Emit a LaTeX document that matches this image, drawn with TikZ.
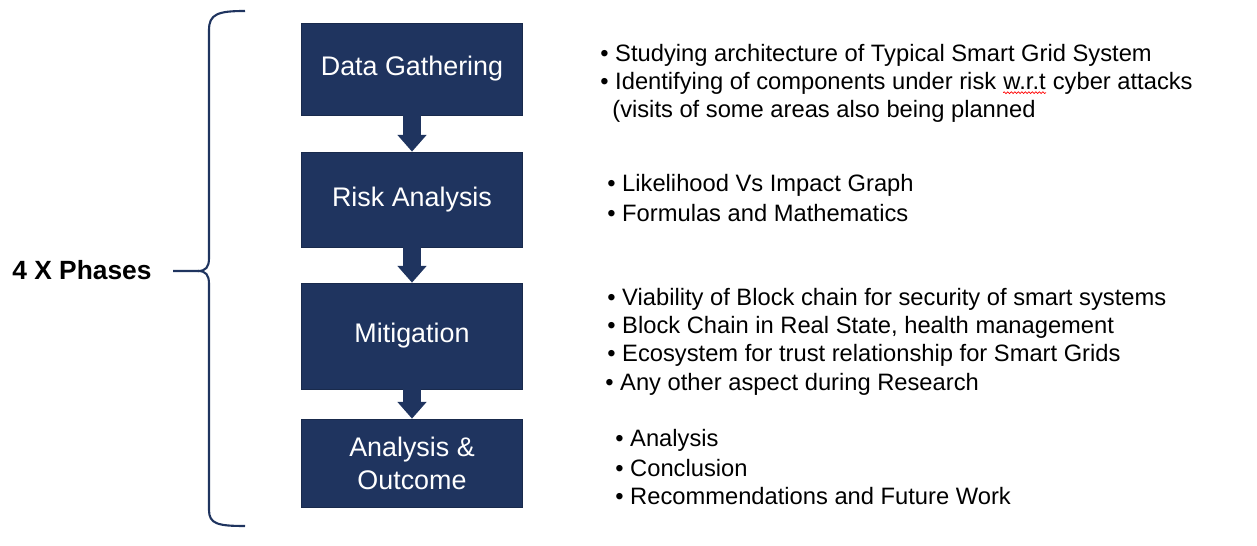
\documentclass[tikz,border=0pt]{standalone}
\usepackage{fontspec}
\setmainfont{Liberation Sans}
\usetikzlibrary{arrows.meta,decorations.pathmorphing}
\definecolor{phasenavy}{RGB}{31,52,95}
\tikzset{
  phase/.style={draw=phasenavy!80!black, fill=phasenavy, text=white, minimum width=4.42cm,
    align=center, font=\fontsize{15.3}{18.7}\selectfont},
  flow/.style={phasenavy, line width=10.5pt, -{Triangle[width=16pt,length=9.5pt]}},
  item/.style={anchor=west, inner sep=0pt, font=\fontsize{13.5}{16}\selectfont},
  brace/.style={phasenavy, line width=1.2pt},
  spell/.style={red, line width=0.4pt, decorate, decoration={snake, amplitude=0.5pt, segment length=2pt}}
}

\begin{document}
\begin{tikzpicture}[x=0.02cm, y=-0.02cm]
    \useasboundingbox (0,0) rectangle (1257,546);
    % phases
    \node[phase, minimum height=1.84cm] (dg) at (412,69) {Data Gathering};
    \node[phase, minimum height=1.90cm] (ra) at (412,199.5) {Risk Analysis};
    \node[phase, minimum height=2.12cm] (mi) at (412,336) {Mitigation};
    \node[phase, minimum height=1.76cm] (ao) at (412,463) {Analysis \&\\Outcome};
    \draw[flow] (dg.south) -- (ra.north);
    \draw[flow] (ra.south) -- (mi.north);
    \draw[flow] (mi.south) -- (ao.north);
    % brace
    \node[anchor=west, inner sep=0pt, font=\fontsize{15}{18}\bfseries\selectfont] (ph) at (12,270) {4 X Phases};
    \coordinate (tip) at (173,271);
    \draw[brace] (245,11) .. controls (218,11) and (209,14) .. (209,30) -- (209,258)
        .. controls (209,267) and (206,271) .. (198,271) -- (tip);
    \draw[brace] (198,271) .. controls (206,271) and (209,275) .. (209,284) -- (209,510)
        .. controls (209,524) and (218,526) .. (245,526);
    % notes
    \node[item] (dg1) at (600,55) {• Studying architecture of Typical Smart Grid System};
    \node[item] (dg2) at (600,83) {• Identifying of components under risk};
    \node[item, anchor=base west] (wrt) at ([xshift=3.7pt]dg2.base east) {w.r.t};
    \node[item, anchor=base west] (dg3) at ([xshift=3.7pt]wrt.base east) {cyber attacks};
    \node[item] (dg4) at (612,111) {(visits of some areas also being planned};
    \draw[spell] ([yshift=-2pt]wrt.base west) -- ([yshift=-2pt]wrt.base east);
    \node[item] (ra1) at (607,185) {• Likelihood Vs Impact Graph};
    \node[item] (ra2) at (607,213) {• Formulas and Mathematics};
    \node[item] (mi1) at (607,299) {• Viability of Block chain for security of smart systems};
    \node[item] (mi2) at (607,327) {• Block Chain in Real State, health management};
    \node[item] (mi3) at (607,355) {• Ecosystem for trust relationship for Smart Grids};
    \node[item] (mi4) at (605,384) {• Any other aspect during Research};
    \node[item] (ao1) at (615,440) {• Analysis};
    \node[item] (ao2) at (615,468) {• Conclusion};
    \node[item] (ao3) at (615,496) {• Recommendations and Future Work};
\end{tikzpicture}
\end{document}
